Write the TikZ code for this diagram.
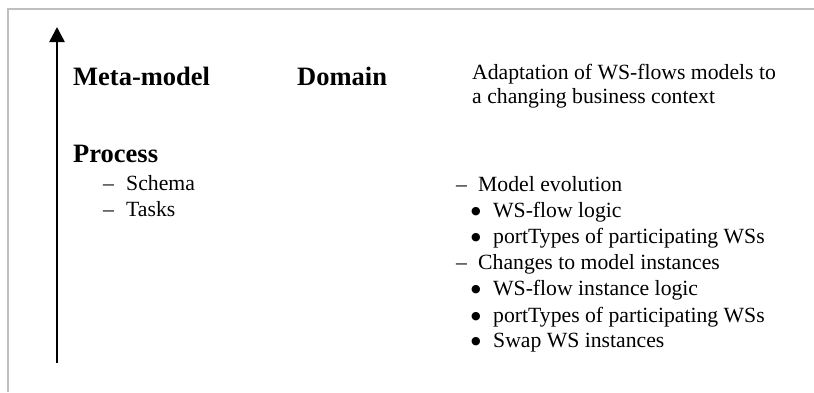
\documentclass[tikz,border=0pt]{standalone}
\usepackage{fontspec}
\setmainfont{Liberation Serif}
\newfontfamily\bulfont{DejaVu Sans}
\usetikzlibrary{arrows.meta}
\tikzset{
  head/.style={anchor=base west, inner sep=0pt, font=\fontsize{26.5}{30}\selectfont\bfseries},
  body/.style={anchor=base west, inner sep=0pt, font=\fontsize{21.7}{26}\selectfont},
  bul/.style={anchor=base west, inner sep=0pt, font=\bulfont\fontsize{11}{13}\selectfont},
  frameline/.style={draw=black!25, line width=2pt},
  axis/.style={line width=2.5pt, -{Triangle[length=15pt,width=15pt]}}
}
\begin{document}
\begin{tikzpicture}[x=1pt,y=-1pt]
\useasboundingbox (0,0) rectangle (814,392);
\draw[frameline] (8,392) -- (8,9) -- (814,9);
\coordinate (abot) at (57,363);
\coordinate (atop) at (57,27);
\draw[axis] (abot) -- (atop);
\node[head] (meta) at (73,85) {Meta-model};
\node[head] (domain) at (297,85) {Domain};
\node[head] (process) at (73,162) {Process};
\node[body] (schemad) at (103,190) {–};
\node[body] (schema) at (126,190) {Schema};
\node[body] (tasksd) at (103,216) {–};
\node[body] (tasks) at (126,216) {Tasks};
\node[body] (adapt1) at (472,79) {Adaptation of WS-flows models to};
\node[body] (adapt2) at (472,103) {a changing business context};
\node[body] (evod) at (456,191) {–};
\node[body] (evo) at (478,191) {Model evolution};
\node[bul] (b1d) at (471,214) {●};
\node[body] (b1) at (493,217) {WS-flow logic};
\node[bul] (b2d) at (471,240) {●};
\node[body] (b2) at (493,243) {portTypes of participating WSs};
\node[body] (chd) at (456,269) {–};
\node[body] (ch) at (478,269) {Changes to model instances};
\node[bul] (b3d) at (471,292) {●};
\node[body] (b3) at (493,295) {WS-flow instance logic};
\node[bul] (b4d) at (471,319) {●};
\node[body] (b4) at (493,322) {portTypes of participating WSs};
\node[bul] (b5d) at (471,344) {●};
\node[body] (b5) at (493,347) {Swap WS instances};
\end{tikzpicture}
\end{document}
